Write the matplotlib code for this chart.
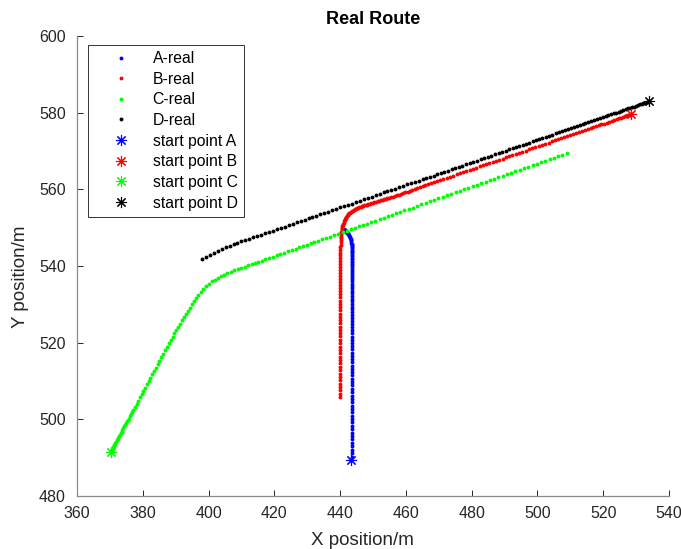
import numpy as np
import matplotlib
matplotlib.use("Agg")
from matplotlib import pyplot as plt

plt.rcParams['font.family'] = ['Liberation Sans', 'DejaVu Sans']

# recorded positions (x, y) in metres, first sample is the start point
A_real = [
    (443.4, 489.4), (443.5, 490.3), (443.5, 491.2), (443.5, 492.1), (443.5, 493.0), (443.5, 493.9),
    (443.5, 494.8), (443.5, 495.7), (443.5, 496.5), (443.5, 497.4), (443.5, 498.3), (443.5, 499.2),
    (443.5, 500.1), (443.5, 500.9), (443.5, 501.8), (443.5, 502.7), (443.5, 503.6), (443.5, 504.5),
    (443.5, 505.3), (443.5, 506.2), (443.5, 507.1), (443.5, 508.0), (443.5, 508.9), (443.5, 509.7),
    (443.5, 510.6), (443.5, 511.5), (443.5, 512.3), (443.5, 513.2), (443.5, 514.0), (443.5, 514.9),
    (443.5, 515.7), (443.5, 516.6), (443.5, 517.4), (443.5, 518.3), (443.5, 519.1), (443.5, 520.0),
    (443.5, 520.8), (443.5, 521.6), (443.5, 522.4), (443.5, 523.2), (443.5, 524.0), (443.5, 524.8),
    (443.5, 525.6), (443.5, 526.4), (443.5, 527.2), (443.5, 528.0), (443.5, 528.7), (443.5, 529.4),
    (443.5, 530.1), (443.5, 530.8), (443.5, 531.5), (443.5, 532.2), (443.5, 532.9), (443.5, 533.6),
    (443.5, 534.2), (443.5, 534.8), (443.5, 535.4), (443.5, 536.0), (443.5, 536.6), (443.5, 537.2),
    (443.5, 537.7), (443.5, 538.2), (443.5, 538.7), (443.5, 539.2), (443.5, 539.7), (443.5, 540.2),
    (443.5, 540.6), (443.5, 541.0), (443.5, 541.4), (443.5, 541.8), (443.5, 542.2), (443.5, 542.6),
    (443.5, 543.0), (443.5, 543.4), (443.5, 543.7), (443.5, 544.0), (443.5, 544.3), (443.5, 544.6),
    (443.5, 544.9), (443.5, 545.2), (443.5, 545.5), (443.5, 545.8), (443.45, 546.1), (443.38, 546.4),
    (443.3, 546.7), (443.2, 546.98), (443.08, 547.25), (442.95, 547.52), (442.8, 547.78),
    (442.64, 548.03), (442.47, 548.27), (442.3, 548.5), (442.12, 548.72), (441.94, 548.93),
    (441.75, 549.13), (441.55, 549.32), (441.35, 549.5), (441.15, 549.67),
]
B_real = [
    (528.4, 579.6), (528.1, 579.51), (527.8, 579.42), (527.4, 579.3), (527.0, 579.18), (526.5, 579.04),
    (526.0, 578.89), (525.4, 578.71), (524.8, 578.53), (524.1, 578.32), (523.4, 578.12), (522.6, 577.88),
    (521.8, 577.64), (521.0, 577.41), (520.2, 577.17), (519.4, 576.93), (518.6, 576.69), (517.8, 576.46),
    (517.0, 576.22), (516.2, 575.98), (515.4, 575.74), (514.5, 575.48), (513.6, 575.21), (512.7, 574.94),
    (511.8, 574.68), (510.9, 574.41), (510.0, 574.14), (509.1, 573.88), (508.2, 573.61), (507.3, 573.34),
    (506.4, 573.07), (505.4, 572.78), (504.4, 572.48), (503.4, 572.19), (502.4, 571.89), (501.4, 571.59),
    (500.4, 571.3), (499.4, 571.0), (498.4, 570.7), (497.4, 570.41), (496.4, 570.11), (495.4, 569.81),
    (494.4, 569.52), (493.4, 569.22), (492.4, 568.92), (491.4, 568.63), (490.4, 568.33), (489.4, 568.03),
    (488.4, 567.74), (487.4, 567.44), (486.4, 567.15), (485.4, 566.85), (484.4, 566.55), (483.4, 566.26),
    (482.4, 565.96), (481.4, 565.66), (480.4, 565.37), (479.4, 565.07), (478.4, 564.77), (477.4, 564.48),
    (476.4, 564.18), (475.4, 563.88), (474.4, 563.59), (473.4, 563.29), (472.4, 562.99), (471.4, 562.7),
    (470.4, 562.4), (469.5, 562.13), (468.6, 561.86), (467.7, 561.59), (466.8, 561.32), (465.9, 561.05),
    (465.1, 560.81), (464.3, 560.57), (463.5, 560.33), (462.7, 560.09), (461.9, 559.85), (461.2, 559.64),
    (460.5, 559.43), (459.8, 559.22), (459.1, 559.01), (458.4, 558.8), (457.8, 558.62), (457.2, 558.44),
    (456.6, 558.26), (456.0, 558.08), (455.4, 557.9), (454.9, 557.77), (454.4, 557.64), (453.9, 557.51),
    (453.4, 557.38), (452.9, 557.25), (452.4, 557.12), (451.9, 556.99), (451.4, 556.86), (450.9, 556.73),
    (450.4, 556.6), (449.9, 556.47), (449.4, 556.34), (449.0, 556.23), (448.6, 556.12), (448.2, 556.01),
    (447.8, 555.91), (447.4, 555.8), (447.0, 555.69), (446.6, 555.58), (446.2, 555.46), (445.8, 555.33),
    (445.4, 555.19), (445.0, 555.03), (444.7, 554.9), (444.4, 554.76), (444.1, 554.61), (443.8, 554.45),
    (443.52, 554.29), (443.25, 554.12), (442.99, 553.94), (442.74, 553.74), (442.5, 553.53),
    (442.27, 553.3), (442.06, 553.06), (441.86, 552.8), (441.68, 552.53), (441.51, 552.25),
    (441.35, 551.96), (441.2, 551.65), (441.06, 551.33), (440.93, 551.0), (440.81, 550.66),
    (440.7, 550.31), (440.6, 549.95), (440.51, 549.58), (440.43, 549.2), (440.36, 548.82),
    (440.3, 548.43), (440.25, 548.03), (440.21, 547.62), (440.18, 547.2), (440.16, 546.77),
    (440.14, 546.33), (440.12, 545.6), (440.1, 544.9), (440.1, 544.2), (440.1, 543.5), (440.1, 542.8),
    (440.1, 542.05), (440.1, 541.3), (440.1, 540.55), (440.1, 539.8), (440.1, 539.0), (440.1, 538.2),
    (440.1, 537.4), (440.1, 536.6), (440.1, 535.8), (440.1, 535.0), (440.1, 534.2), (440.1, 533.4),
    (440.1, 532.6), (440.1, 531.8), (440.1, 531.0), (440.1, 530.15), (440.1, 529.3), (440.1, 528.45),
    (440.1, 527.6), (440.1, 526.75), (440.1, 525.9), (440.1, 525.05), (440.1, 524.2), (440.1, 523.35),
    (440.1, 522.5), (440.1, 521.62), (440.1, 520.74), (440.1, 519.86), (440.1, 518.98), (440.1, 518.1),
    (440.1, 517.22), (440.1, 516.34), (440.1, 515.46), (440.1, 514.58), (440.1, 513.7), (440.1, 512.82),
    (440.1, 511.94), (440.1, 511.06), (440.1, 510.18), (440.1, 509.3), (440.1, 508.42), (440.1, 507.54),
    (440.1, 506.66), (440.1, 505.9),
]
C_real = [
    (370.3, 491.6), (370.4, 491.76), (370.5, 491.92), (370.62, 492.11), (370.74, 492.3), (370.88, 492.53),
    (371.02, 492.75), (371.18, 493.01), (371.34, 493.26), (371.52, 493.55), (371.7, 493.84),
    (371.9, 494.16), (372.1, 494.48), (372.32, 494.83), (372.54, 495.18), (372.78, 495.57),
    (373.02, 495.95), (373.28, 496.37), (373.54, 496.78), (373.82, 497.23), (374.1, 497.68),
    (374.4, 498.16), (374.7, 498.64), (375.02, 499.15), (375.34, 499.66), (375.68, 500.21),
    (376.02, 500.75), (376.38, 501.33), (376.74, 501.9), (377.1, 502.48), (377.6, 503.28),
    (378.1, 504.08), (378.62, 504.91), (379.14, 505.74), (379.66, 506.58), (380.18, 507.41),
    (380.7, 508.24), (381.24, 509.1), (381.78, 509.97), (382.32, 510.83), (382.86, 511.7),
    (383.4, 512.56), (383.96, 513.46), (384.52, 514.36), (385.08, 515.25), (385.64, 516.14),
    (386.2, 517.04), (386.78, 517.97), (387.36, 518.9), (387.94, 519.82), (388.52, 520.75),
    (389.06, 521.59), (389.62, 522.43), (390.18, 523.27), (390.74, 524.11), (391.3, 524.95),
    (391.86, 525.79), (392.44, 526.64), (393.02, 527.48), (393.62, 528.32), (394.24, 529.15),
    (394.88, 530.0), (395.54, 530.84), (396.22, 531.66), (396.92, 532.45), (397.66, 533.24),
    (398.42, 534.0), (399.22, 534.72), (400.06, 535.38), (400.94, 535.96), (401.86, 536.46),
    (402.8, 536.92), (403.76, 537.36), (404.74, 537.78), (405.74, 538.18), (406.76, 538.56),
    (407.81, 538.88), (408.86, 539.19), (409.91, 539.51), (410.96, 539.83), (412.01, 540.14),
    (413.06, 540.46), (414.11, 540.78), (415.16, 541.09), (416.21, 541.41), (417.26, 541.73),
    (418.41, 542.07), (419.56, 542.42), (420.71, 542.77), (421.86, 543.12), (423.01, 543.46),
    (424.16, 543.81), (425.31, 544.16), (426.46, 544.5), (427.61, 544.85), (428.76, 545.2),
    (429.91, 545.54), (431.06, 545.89), (432.21, 546.24), (433.36, 546.58), (434.51, 546.93),
    (435.76, 547.31), (437.01, 547.69), (438.26, 548.06), (439.51, 548.44), (440.76, 548.82),
    (442.01, 549.2), (443.26, 549.57), (444.51, 549.95), (445.76, 550.33), (447.01, 550.71),
    (448.26, 551.08), (449.51, 551.46), (450.76, 551.84), (452.01, 552.22), (453.26, 552.59),
    (454.51, 552.97), (455.76, 553.35), (457.01, 553.73), (458.26, 554.1), (459.51, 554.48),
    (460.81, 554.87), (462.11, 555.26), (463.41, 555.66), (464.71, 556.05), (466.01, 556.44),
    (467.31, 556.83), (468.61, 557.22), (469.91, 557.62), (471.21, 558.01), (472.51, 558.4),
    (473.81, 558.79), (475.11, 559.18), (476.41, 559.58), (477.71, 559.97), (479.01, 560.36),
    (480.31, 560.75), (481.61, 561.14), (482.91, 561.54), (484.21, 561.93), (485.51, 562.32),
    (486.81, 562.71), (488.11, 563.1), (489.41, 563.5), (490.71, 563.89), (492.01, 564.28),
    (493.31, 564.67), (494.61, 565.06), (495.91, 565.46), (497.21, 565.85), (498.51, 566.24),
    (499.81, 566.63), (501.11, 567.02), (502.41, 567.42), (503.71, 567.81), (505.01, 568.2),
    (506.31, 568.59), (507.61, 568.98), (508.91, 569.38),
]
D_real = [
    (534.0, 583.0), (533.6, 582.9), (533.2, 582.8), (532.7, 582.6), (532.2, 582.5), (531.7, 582.3),
    (531.2, 582.2), (530.6, 582.0), (530.0, 581.8), (529.4, 581.6), (528.8, 581.5), (528.2, 581.3),
    (527.5, 581.1), (526.8, 580.9), (526.1, 580.7), (525.4, 580.5), (524.7, 580.3), (524.0, 580.0),
    (523.2, 579.8), (522.4, 579.6), (521.6, 579.3), (520.8, 579.1), (520.0, 578.9), (519.1, 578.6),
    (518.2, 578.3), (517.3, 578.1), (516.4, 577.8), (515.5, 577.5), (514.6, 577.3), (513.7, 577.0),
    (512.8, 576.7), (511.9, 576.5), (511.0, 576.2), (510.1, 576.0), (509.2, 575.7), (508.3, 575.4),
    (507.4, 575.2), (506.5, 574.9), (505.5, 574.6), (504.5, 574.3), (503.5, 574.0), (502.5, 573.7),
    (501.5, 573.4), (500.5, 573.1), (499.5, 572.8), (498.5, 572.5), (497.5, 572.2), (496.5, 571.9),
    (495.5, 571.6), (494.5, 571.3), (493.5, 571.1), (492.5, 570.8), (491.5, 570.5), (490.4, 570.1),
    (489.3, 569.8), (488.2, 569.5), (487.1, 569.2), (486.0, 568.8), (484.9, 568.5), (483.8, 568.2),
    (482.7, 567.9), (481.6, 567.5), (480.5, 567.2), (479.4, 566.9), (478.3, 566.6), (477.2, 566.2),
    (476.1, 565.9), (475.0, 565.6), (473.9, 565.3), (472.8, 564.9), (471.7, 564.6), (470.6, 564.3),
    (469.5, 564.0), (468.4, 563.6), (467.3, 563.3), (466.2, 563.0), (465.1, 562.7), (464.0, 562.3),
    (462.8, 562.0), (461.6, 561.6), (460.4, 561.3), (459.2, 560.9), (458.0, 560.6), (456.8, 560.2),
    (455.6, 559.9), (454.4, 559.5), (453.2, 559.2), (452.0, 558.8), (450.8, 558.4), (449.6, 558.1),
    (448.4, 557.7), (447.2, 557.4), (446.0, 557.0), (444.8, 556.7), (443.6, 556.3), (442.4, 556.0),
    (441.2, 555.6), (440.0, 555.3), (438.8, 554.9), (437.6, 554.6), (436.4, 554.2), (435.2, 553.8),
    (434.0, 553.5), (432.8, 553.1), (431.6, 552.8), (430.4, 552.4), (429.2, 552.1), (428.0, 551.7),
    (426.8, 551.4), (425.6, 551.0), (424.4, 550.7), (423.2, 550.3), (422.0, 550.0), (420.8, 549.6),
    (419.6, 549.2), (418.4, 548.9), (417.2, 548.5), (416.0, 548.2), (414.8, 547.8), (413.6, 547.5),
    (412.4, 547.1), (411.2, 546.8), (410.0, 546.5), (408.8, 546.1), (407.6, 545.7), (406.4, 545.3),
    (405.2, 544.9), (404.0, 544.5), (402.8, 544.0), (401.6, 543.5), (400.4, 542.9), (399.2, 542.3),
    (398.0, 541.7),
]

names = ['A', 'B', 'C', 'D']
tracks = [A_real, B_real, C_real, D_real]
colors = ['#0000ff', '#ff0000', '#00ff00', '#000000']

fig = plt.figure(figsize=(6.81, 5.49), dpi=100)
ax = fig.add_axes([77 / 681, 53 / 549, 592 / 681, 460 / 549])

for name, tr, c in zip(names, tracks, colors):
    p = np.array(tr)
    ax.plot(p[:, 0], p[:, 1], 'o', color=c, ms=2.8, mew=0, label=name + '-real')

# asterisk at the first sample of every track
for name, tr, c in zip(names, tracks, colors):
    ax.plot(tr[0][0], tr[0][1], ls='none', marker=(8, 2, 0), color=c,
            ms=8, mew=0.8, label='start point ' + name)

ax.set_xlim(360, 540)
ax.set_ylim(480, 600)
ax.set_xticks(np.arange(360, 541, 20))
ax.set_yticks(np.arange(480, 601, 20))

axcol = '#262626'
for s in ['top', 'right']:
    ax.spines[s].set_visible(False)
for s in ['left', 'bottom']:
    ax.spines[s].set_color('#8a8a8a')
    ax.spines[s].set_linewidth(0.9)
ax.tick_params(direction='in', length=4, width=0.7, color=axcol,
               labelcolor=axcol, labelsize=11.5)
ax.tick_params(axis='x', pad=7)
ax.tick_params(axis='y', pad=8)

ax.set_title('Real Route', fontsize=13, fontweight='bold', pad=9)
ax.set_xlabel('X position/m', fontsize=13.5, color=axcol)
ax.set_ylabel('Y position/m', fontsize=13.5, color=axcol)
ax.xaxis.set_label_coords(0.483, -0.078)
ax.yaxis.set_label_coords(-0.081, 0.477)

leg = ax.legend(loc='upper left', bbox_to_anchor=(0.019, 0.981), borderaxespad=0,
                fontsize=11.3, labelspacing=0.36, handlelength=3.4, handletextpad=0.3,
                borderpad=0.4, fancybox=False, framealpha=1)
leg.get_frame().set_edgecolor('#333333')
leg.get_frame().set_linewidth(0.7)

fig.savefig('out.png', dpi=100)
